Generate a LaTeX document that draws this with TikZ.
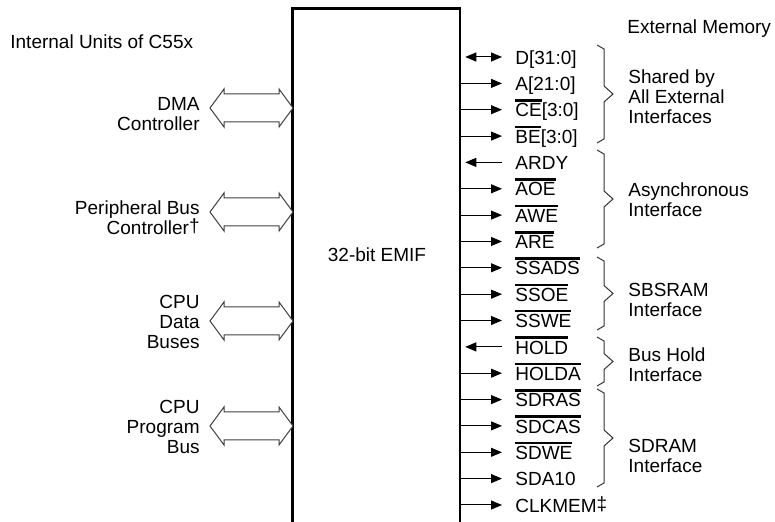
\documentclass[tikz,border=0pt]{standalone}
\usepackage{fontspec}
\setmainfont{Liberation Sans}
\usepackage{tikz}
\usetikzlibrary{arrows.meta, positioning}
\newcommand{\actlow}[1]{\setbox0=\hbox{#1}\rlap{\raisebox{\dimexpr\ht0+1pt\relax}{\rule{\wd0}{1.3pt}}}\box0}

\begin{document}
\begin{tikzpicture}[x=0.5pt, y=-0.5pt,
    every node/.style={font=\fontsize{9.5}{10}\selectfont, inner sep=0pt},
    emifbox/.style={minimum width=83.7pt, minimum height=257pt, outer sep=0pt},
    busarrow/.pic={\draw[draw=black!75, fill=white, line width=0.5pt, line join=miter]
      (0,0) -- ++(14,-19) -- ++(0,5) -- ++(55,0) -- ++(0,-5) -- ++(14,19)
      -- ++(-14,19) -- ++(0,-5) -- ++(-55,0) -- ++(0,5) -- cycle;},
    unitlbl/.style={anchor=east, align=right},
    sig/.style={anchor=west, inner xsep=6.5pt, text height=7.2pt, text depth=0pt},
    grplbl/.style={anchor=west, align=left},
    sigout/.style={-{Triangle[length=5.5pt, width=4.5pt]}, line width=0.5pt},
    sigin/.style={sigout, shorten >=2.6pt},
    sigbi/.style={{Triangle[length=5.5pt, width=4.5pt]}-{Triangle[length=5.5pt, width=4.5pt]},
      line width=0.5pt, shorten >=2.6pt},
    memgroup/.style={line width=0.5pt, draw=black!80}]
  \useasboundingbox (0,0) rectangle (775,522);

  % EMIF block, open at the bottom
  \node[emifbox] (emif) at (376.35,265.35) {};
  \draw[line width=1.4pt] (emif.south west) |- (emif.north east) -- (emif.south east);
  \node (emiflbl) at (377,255) {32-bit EMIF};

  % internal side
  \node[anchor=west] (intlbl) at (10,42) {Internal Units of C55x};
  \node[unitlbl] (dmalbl) at (200,114) {DMA\\Controller};
  \node[unitlbl] (pbclbl) at (200,218) {Peripheral Bus\\Controller\raisebox{1pt}{†}};
  \node[unitlbl] (cpudlbl) at (200,322) {CPU\\Data\\Buses};
  \node[unitlbl] (cpuplbl) at (200,427) {CPU\\Program\\Bus};
  \coordinate (dmatip) at (210,108);
  \coordinate (pbctip) at (210,212);
  \coordinate (cpudtip) at (210,321);
  \coordinate (cpuptip) at (210,426);
  \pic (dmabus) at (dmatip) {busarrow};
  \pic (pbcbus) at (pbctip) {busarrow};
  \pic (cpudbus) at (cpudtip) {busarrow};
  \pic (cpupbus) at (cpuptip) {busarrow};

  % external side
  \node[anchor=west] (extlbl) at (627,29) {External Memory};
  \node[sig] (sD) at (502,57) {D[31:0]};
  \node[sig] (sA) at (502,83.4) {A[21:0]};
  \node[sig] (sCE) at (502,109.7) {\actlow{CE}[3:0]};
  \node[sig] (sBE) at (502,136.1) {\actlow{BE}[3:0]};
  \node[sig] (sARDY) at (502,162.4) {ARDY};
  \node[sig] (sAOE) at (502,188.8) {\actlow{AOE}};
  \node[sig] (sAWE) at (502,215.1) {\actlow{AWE}};
  \node[sig] (sARE) at (502,241.5) {\actlow{ARE}};
  \node[sig] (sSSADS) at (502,267.8) {\actlow{SSADS}};
  \node[sig] (sSSOE) at (502,294.2) {\actlow{SSOE}};
  \node[sig] (sSSWE) at (502,320.5) {\actlow{SSWE}};
  \node[sig] (sHOLD) at (502,346.9) {\actlow{HOLD}};
  \node[sig] (sHOLDA) at (502,373.2) {\actlow{HOLDA}};
  \node[sig] (sSDRAS) at (502,399.6) {\actlow{SDRAS}};
  \node[sig] (sSDCAS) at (502,425.9) {\actlow{SDCAS}};
  \node[sig] (sSDWE) at (502,452.3) {\actlow{SDWE}};
  \node[sig] (sSDA10) at (502,478.6) {SDA10};
  \node[sig] (sCLK) at (502,505) {CLKMEM\raisebox{1pt}{‡}};

  \draw[sigbi] (sD.west) -- (emif.east |- sD);
  \draw[sigout] (emif.east |- sA) -- (sA.west);
  \draw[sigout] (emif.east |- sCE) -- (sCE.west);
  \draw[sigout] (emif.east |- sBE) -- (sBE.west);
  \draw[sigin] (sARDY.west) -- (emif.east |- sARDY);
  \draw[sigout] (emif.east |- sAOE) -- (sAOE.west);
  \draw[sigout] (emif.east |- sAWE) -- (sAWE.west);
  \draw[sigout] (emif.east |- sARE) -- (sARE.west);
  \draw[sigout] (emif.east |- sSSADS) -- (sSSADS.west);
  \draw[sigout] (emif.east |- sSSOE) -- (sSSOE.west);
  \draw[sigout] (emif.east |- sSSWE) -- (sSSWE.west);
  \draw[sigin] (sHOLD.west) -- (emif.east |- sHOLD);
  \draw[sigout] (emif.east |- sHOLDA) -- (sHOLDA.west);
  \draw[sigout] (emif.east |- sSDRAS) -- (sSDRAS.west);
  \draw[sigout] (emif.east |- sSDCAS) -- (sSDCAS.west);
  \draw[sigout] (emif.east |- sSDWE) -- (sSDWE.west);
  \draw[sigout] (emif.east |- sSDA10) -- (sSDA10.west);
  \draw[sigout] (emif.east |- sCLK) -- (sCLK.west);

  % interface groups
  \draw[memgroup] (597,45) -- (604,49) -- (604,86) -- (613,94) -- (604,102) -- (604,139) -- (597,143);
  \draw[memgroup] (597,150) -- (604,154) -- (604,191) -- (613,199) -- (604,207) -- (604,244) -- (597,248);
  \draw[memgroup] (597,257) -- (604,261) -- (604,285.5) -- (613,293.5) -- (604,301.5) -- (604,326) -- (597,330);
  \draw[memgroup] (597,337) -- (604,341) -- (604,353.5) -- (613,361.5) -- (604,369.5) -- (604,382) -- (597,386);
  \draw[memgroup] (597,389) -- (604,393) -- (604,430) -- (613,438) -- (604,446) -- (604,483) -- (597,487);
  \node[grplbl] (sharedlbl) at (628,97) {Shared by\\All External\\Interfaces};
  \node[grplbl] (asynclbl) at (628,200) {Asynchronous\\Interface};
  \node[grplbl] (sbsramlbl) at (628,300) {SBSRAM\\Interface};
  \node[grplbl] (holdlbl) at (628,365) {Bus Hold\\Interface};
  \node[grplbl] (sdramlbl) at (628,456) {SDRAM\\Interface};
\end{tikzpicture}
\end{document}
